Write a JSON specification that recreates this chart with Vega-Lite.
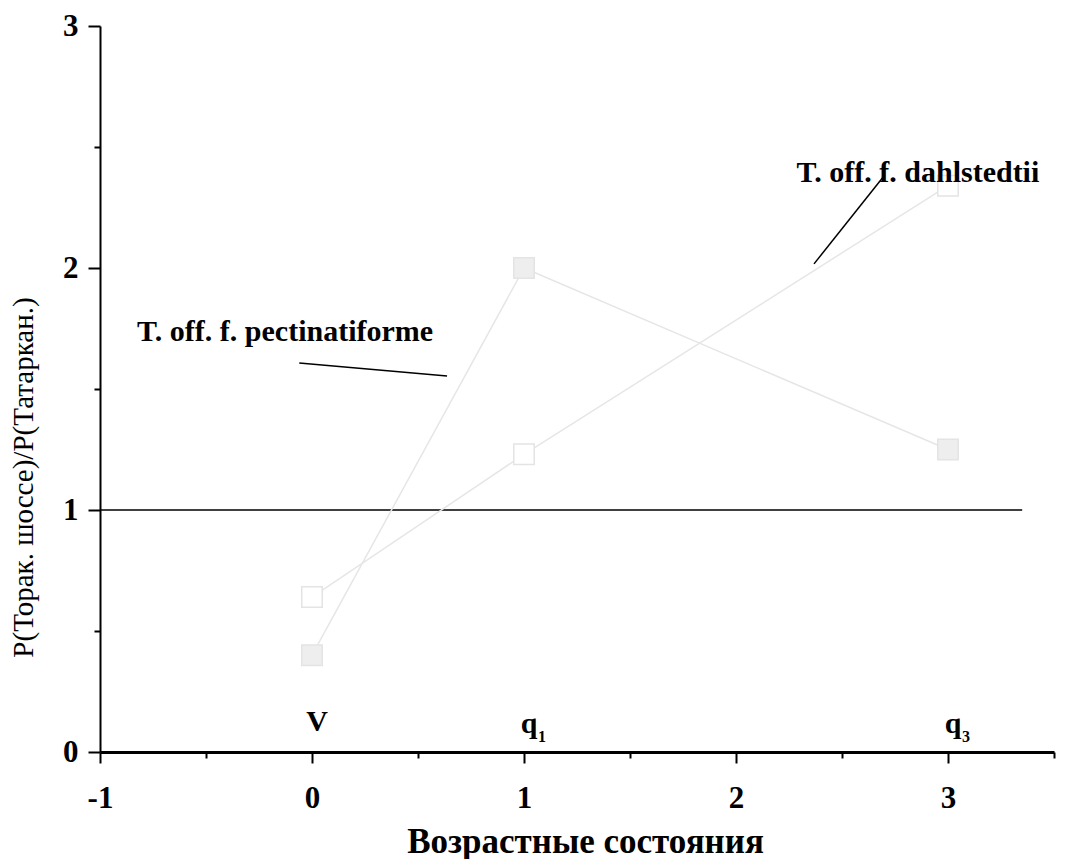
{
  "$schema": "https://vega.github.io/schema/vega-lite/v6.json",
  "width": 954,
  "height": 726,
  "autosize": "none",
  "padding": {"left": 100, "top": 26, "right": 12, "bottom": 107},
  "background": "white",
  "config": {
    "view": {"stroke": null},
    "font": "Liberation Serif"
  },
  "datasets": {
    "series": [
      {"series": "pectinatiforme", "x": 0, "y": 0.4},
      {"series": "pectinatiforme", "x": 1, "y": 2.0},
      {"series": "pectinatiforme", "x": 3, "y": 1.25},
      {"series": "dahlstedtii", "x": 0, "y": 0.64},
      {"series": "dahlstedtii", "x": 1, "y": 1.23},
      {"series": "dahlstedtii", "x": 3, "y": 2.34}
    ],
    "refline": [{"x": -1, "x2": 3.35, "y": 1}],
    "pointers": [
      {"x": -0.06, "y": 1.607, "x2": 0.637, "y2": 1.554},
      {"x": 2.368, "y": 2.017, "x2": 2.698, "y2": 2.38}
    ],
    "notes": [
      {"label": "T. off. f. pectinatiforme", "x": -0.127, "y": 1.70},
      {"label": "T. off. f. dahlstedtii", "x": 2.858, "y": 2.355}
    ],
    "stages": [
      {"label": "V", "x": 0, "y": 0.088},
      {"label": "q", "x": 1, "y": 0.08},
      {"label": "q", "x": 3, "y": 0.08}
    ],
    "subs": [
      {"label": "1", "x": 1, "y": 0.04},
      {"label": "3", "x": 3, "y": 0.04}
    ]
  },
  "layer": [
    {
      "data": {"name": "refline"},
      "mark": {"type": "rule", "color": "black", "strokeWidth": 1.5},
      "encoding": {
        "x": {
          "field": "x", "type": "quantitative",
          "scale": {"domain": [-1, 3.5], "nice": false, "zero": false},
          "axis": {
            "values": [-1, -0.5, 0, 0.5, 1, 1.5, 2, 2.5, 3, 3.5],
            "labelExpr": "datum.value % 1 === 0 ? '' + datum.value : ''",
            "grid": false,
            "domainColor": "black",
            "domainWidth": 3,
            "tickColor": "black",
            "tickWidth": 2,
            "tickSize": {"condition": {"test": "datum.value % 1 !== 0", "value": 6}, "value": 11},
            "labelFont": "Liberation Serif",
            "labelFontWeight": "bold",
            "labelFontSize": 31,
            "labelColor": "black",
            "labelPadding": 20,
            "labelFlush": false,
            "title": "Возрастные состояния",
            "titleFont": "Liberation Serif",
            "titleFontWeight": "bold",
            "titleFontSize": 35,
            "titleColor": "black",
            "titlePadding": 11,
            "titleX": 485
          }
        },
        "x2": {"field": "x2"},
        "y": {
          "field": "y", "type": "quantitative",
          "scale": {"domain": [0, 3], "nice": false},
          "axis": {
            "values": [0, 0.5, 1, 1.5, 2, 2.5, 3],
            "labelExpr": "datum.value % 1 === 0 ? '' + datum.value : ''",
            "grid": false,
            "domainColor": "black",
            "domainWidth": 2,
            "tickColor": "black",
            "tickWidth": 2,
            "tickSize": {"condition": {"test": "datum.value % 1 !== 0", "value": 6}, "value": 12},
            "labelFont": "Liberation Serif",
            "labelFontWeight": "bold",
            "labelFontSize": 31,
            "labelColor": "black",
            "labelPadding": 10,
            "title": "P(Торак. шоссе)/P(Татаркан.)",
            "titleFont": "Liberation Serif",
            "titleFontWeight": "normal",
            "titleFontSize": 29,
            "titleColor": "black",
            "titleAngle": 270,
            "titleX": -77,
            "titleY": 451,
            "titleAlign": "center",
            "titleBaseline": "middle"
          }
        }
      }
    },
    {
      "data": {"name": "series"},
      "mark": {"type": "line", "color": "#e6e6e6", "strokeWidth": 1.5},
      "encoding": {
        "x": {"field": "x", "type": "quantitative"},
        "y": {"field": "y", "type": "quantitative"},
        "detail": {"field": "series"}
      }
    },
    {
      "data": {"name": "series"},
      "mark": {"type": "point", "shape": "square", "size": 420, "filled": false, "stroke": "#e4e4e4", "strokeWidth": 1.5, "opacity": 1},
      "encoding": {
        "x": {"field": "x", "type": "quantitative"},
        "y": {"field": "y", "type": "quantitative"},
        "fill": {
          "field": "series", "type": "nominal",
          "scale": {"domain": ["pectinatiforme", "dahlstedtii"], "range": ["#eeeeee", "#ffffff"]},
          "legend": null
        }
      }
    },
    {
      "data": {"name": "pointers"},
      "mark": {"type": "rule", "color": "black", "strokeWidth": 1.5},
      "encoding": {
        "x": {"field": "x", "type": "quantitative"},
        "y": {"field": "y", "type": "quantitative"},
        "x2": {"field": "x2"},
        "y2": {"field": "y2"}
      }
    },
    {
      "data": {"name": "notes"},
      "mark": {"type": "text", "font": "Liberation Serif", "fontWeight": "bold", "fontSize": 30, "color": "black", "align": "center", "baseline": "alphabetic"},
      "encoding": {
        "x": {"field": "x", "type": "quantitative"},
        "y": {"field": "y", "type": "quantitative"},
        "text": {"field": "label"}
      }
    },
    {
      "data": {"name": "stages"},
      "mark": {"type": "text", "font": "Liberation Serif", "fontWeight": "bold", "fontSize": 30, "color": "black", "align": "center", "baseline": "alphabetic", "dx": 5},
      "encoding": {
        "x": {"field": "x", "type": "quantitative"},
        "y": {"field": "y", "type": "quantitative"},
        "text": {"field": "label"}
      }
    },
    {
      "data": {"name": "subs"},
      "mark": {"type": "text", "font": "Liberation Serif", "fontWeight": "bold", "fontSize": 16, "color": "black", "align": "center", "baseline": "alphabetic", "dx": 18},
      "encoding": {
        "x": {"field": "x", "type": "quantitative"},
        "y": {"field": "y", "type": "quantitative"},
        "text": {"field": "label"}
      }
    }
  ]
}
